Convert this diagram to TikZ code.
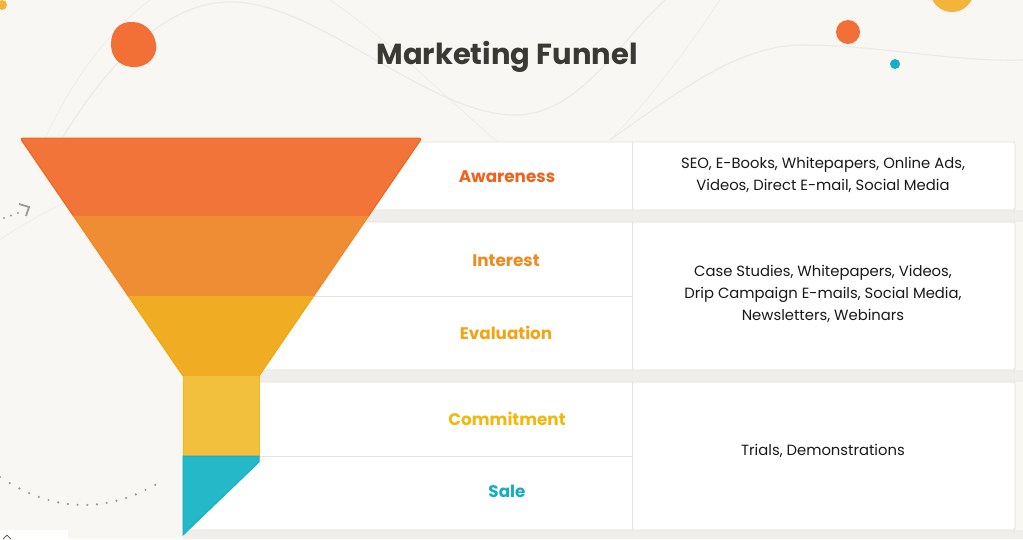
\documentclass[tikz,border=0pt]{standalone}
\usepackage{fontspec}
\setmainfont{Poppins}
\definecolor{bg}{HTML}{F8F7F3}
\definecolor{wave}{HTML}{ECEBE6}
\definecolor{gapgray}{HTML}{EFEEEA}
\definecolor{boxline}{HTML}{E4E2DA}
\definecolor{bandA}{HTML}{F27438}
\definecolor{bandB}{HTML}{EF8D35}
\definecolor{bandC}{HTML}{F0AC22}
\definecolor{bandD}{HTML}{F2C03C}
\definecolor{bandE}{HTML}{25B8C8}
\definecolor{edgeA}{HTML}{EE661C}
\definecolor{edgeB}{HTML}{F2861C}
\definecolor{edgeC}{HTML}{F2A60A}
\definecolor{edgeD}{HTML}{F2BA12}
\definecolor{edgeE}{HTML}{0DB3C7}
\definecolor{txtA}{HTML}{F0631F}
\definecolor{txtB}{HTML}{F08A1E}
\definecolor{txtC}{HTML}{F2A514}
\definecolor{txtD}{HTML}{F2B90C}
\definecolor{txtE}{HTML}{15ADC2}
\definecolor{titlec}{HTML}{3A3A33}
\definecolor{dotgray}{HTML}{9A9A96}
\definecolor{blobor}{HTML}{F26F35}
\definecolor{blobyel}{HTML}{F4B43C}
\definecolor{blobteal}{HTML}{14AFC6}
\tikzset{
  rowbox/.style={fill=white, draw=boxline, line width=0.8pt, rounded corners=2pt},
  divider/.style={draw=boxline, line width=0.8pt},
  stage/.style={font=\fontsize{16.8}{20}\selectfont\bfseries, anchor=center},
  desc/.style={font=\fontsize{14.8}{22}\selectfont, align=center, anchor=center, text=black!90},
  wavy/.style={draw=wave, line width=1.2pt},
  thinwave/.style={draw=wave, line width=0.6pt},
}
\begin{document}
\begin{tikzpicture}[x=1pt,y=-1pt]
\useasboundingbox (0,0) rectangle (1023,539);
\fill[bg] (0,0) rectangle (1023,539);
% background waves
\draw[wavy] (55,150) .. controls (120,40) and (180,0) .. (235,2) .. controls (320,5) and (430,115) .. (515,115) .. controls (580,115) and (620,40) .. (665,0);
\draw[thinwave] (40,150) .. controls (70,80) and (110,30) .. (150,0);
\draw[thinwave] (330,0) .. controls (420,60) and (520,180) .. (620,230);
\draw[thinwave] (720,0) .. controls (680,60) and (640,110) .. (610,140);
\draw[wavy] (610,140) .. controls (680,90) and (740,45) .. (802,45) .. controls (880,45) and (950,62) .. (1023,60);
\draw[thinwave] (0,240) .. controls (20,225) and (50,210) .. (60,205);
% decorations
\fill[blobor] (133,22) .. controls (148,22) and (158,38) .. (156,50) .. controls (154,62) and (142,68) .. (132,67) .. controls (118,66) and (111,56) .. (111,44) .. controls (111,30) and (120,21) .. (133,22) -- cycle;
\fill[blobor] (848,32) circle (12);
\fill[blobteal] (895,64) circle (5);
\fill[blobyel] (952,-10) circle (22);
\fill[blobyel] (2,5) circle (5);
\foreach \i in {0,...,16} {
  \pgfmathsetmacro{\xx}{\i*9.7}
  \fill[dotgray] ({\xx},{505-0.00397*(\xx-84)*(\xx-84)}) circle (1.2);
}
\foreach \i in {0,...,2} {
  \fill[dotgray] ({4+\i*7},{218-\i*2.5}) circle (1.2);
}
\draw[dotgray, line width=1.8pt] (19,204) -- (29,207) -- (26,216);
\fill[white] (0,530) rectangle (68,539);
\draw[black!70, line width=0.7pt] (3,539) -- (7,535) -- (11,539);
% table rows
\fill[gapgray] (183,210) rectangle (1023,222);
\fill[gapgray] (183,370) rectangle (1023,382);
\fill[gapgray] (183,530) rectangle (1023,539);
\draw[rowbox] (183,142) rectangle (1015,210);
\draw[rowbox] (183,222) rectangle (1015,370);
\draw[rowbox] (183,382) rectangle (1015,530);
\draw[divider] (632,142) -- (632,210);
\draw[divider] (632,222) -- (632,370);
\draw[divider] (632,382) -- (632,530);
\draw[divider] (183,296) -- (632,296);
\draw[divider] (183,456) -- (632,456);
% funnel
\fill[bandA] (73.4,216) [rounded corners=3pt] -- (20,138) -- (422,138) [sharp corners] -- (368.6,216) -- cycle;
\fill[bandB] (73.4,216) -- (368.6,216) -- (313.8,296) -- (128.2,296) -- cycle;
\fill[bandC] (128.2,296) -- (313.8,296) -- (259,376) -- (183,376) -- cycle;
\fill[bandD] (183,376) rectangle (259,456);
\fill[bandE] (183,456) -- (259,456) -- (259,462) -- (183,535) -- cycle;
\draw[edgeA, line width=1pt] (73.4,216) [rounded corners=3pt] -- (20,138) -- (422,138) [sharp corners] -- (368.6,216);
\draw[edgeB, line width=1pt] (73.4,216) -- (128.2,296) (368.6,216) -- (313.8,296);
\draw[edgeC, line width=1pt] (128.2,296) -- (183,376) (313.8,296) -- (259,376);
\draw[edgeD, line width=1pt] (183,376) -- (183,456) (259,376) -- (259,456);
\draw[edgeE, line width=1pt] (183,456) -- (259,456) -- (259,462) -- (183,535) -- cycle;
% title
\node[font=\fontsize{29}{32}\selectfont\bfseries, text=titlec] (title) at (507,57) {Marketing Funnel};
% stage labels
\node[stage, text=txtA] (aware) at (507,177) {Awareness};
\node[stage, text=txtB] (inter) at (506,261) {Interest};
\node[stage, text=txtC] (evalu) at (506,333) {Evaluation};
\node[stage, text=txtD] (commi) at (507,419) {Commitment};
\node[stage, text=txtE] (sale) at (507,491) {Sale};
% descriptions
\node[desc] (d1) at (823,175) {SEO, E-Books, Whitepapers, Online Ads,\\Videos, Direct E-mail, Social Media};
\node[desc] (d2) at (823,294) {Case Studies, Whitepapers, Videos,\\Drip Campaign E-mails, Social Media,\\Newsletters, Webinars};
\node[desc] (d3) at (823,451) {Trials, Demonstrations};
\end{tikzpicture}
\end{document}
